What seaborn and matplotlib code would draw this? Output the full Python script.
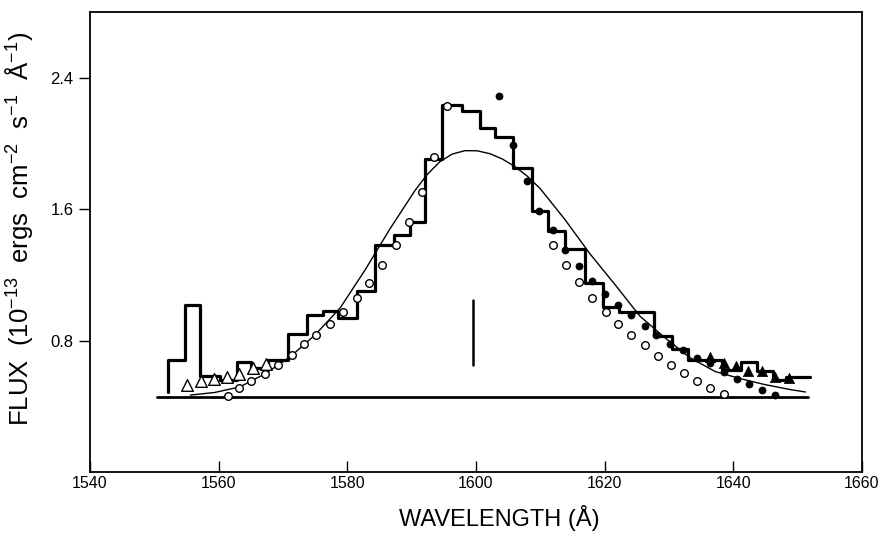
import matplotlib
matplotlib.use("Agg")
import matplotlib.pyplot as plt
import seaborn as sns
import pandas as pd

# ---------------- data ----------------
hist_edges = [1552.2, 1554.8, 1557.1, 1560.2, 1562.9, 1565.1, 1567.7, 1570.8,
              1573.7, 1576.3, 1578.6, 1581.5, 1584.3, 1587.2, 1589.7, 1592.1,
              1594.7, 1597.8, 1600.6, 1603.0, 1605.8, 1608.7, 1611.2, 1613.8,
              1617.0, 1619.7, 1622.3, 1627.6, 1630.4, 1633.0, 1638.2, 1641.2,
              1643.7, 1646.2, 1648.2, 1651.9]
hist_flux = [0.680, 1.015, 0.587, 0.558, 0.668, 0.630, 0.684, 0.839, 0.956,
             0.978, 0.935, 1.100, 1.381, 1.445, 1.519, 1.907, 2.236, 2.199,
             2.095, 2.041, 1.852, 1.586, 1.469, 1.358, 1.148, 1.007, 0.973,
             0.830, 0.751, 0.684, 0.623, 0.672, 0.617, 0.557, 0.578]
hist_start_flux = 0.484

fit_wave = [1555.6, 1559.4, 1563.3, 1567.2, 1571.1, 1575.0, 1578.9, 1582.8,
            1586.6, 1590.5, 1592.4, 1594.4, 1596.3, 1598.3, 1600.2, 1602.2,
            1604.1, 1606.1, 1608.0, 1610.0, 1613.8, 1617.7, 1621.6, 1625.5,
            1629.4, 1633.3, 1637.2, 1641.0, 1644.9, 1648.8, 1651.2]
fit_flux = [0.468, 0.484, 0.518, 0.597, 0.700, 0.835, 0.999, 1.232, 1.478,
            1.712, 1.810, 1.889, 1.935, 1.956, 1.955, 1.937, 1.905, 1.858,
            1.800, 1.724, 1.538, 1.329, 1.141, 0.948, 0.816, 0.695, 0.611,
            0.569, 0.532, 0.502, 0.487]

open_circ_wave = [1561.4, 1563.2, 1565.1, 1567.2, 1569.3, 1571.4, 1573.3,
                  1575.2, 1577.3, 1579.4, 1581.5, 1583.4, 1585.4, 1587.5,
                  1589.6, 1591.6, 1593.5, 1595.5,
                  1611.9, 1614.0, 1616.0, 1618.0, 1620.2, 1622.1, 1624.1,
                  1626.2, 1628.3, 1630.3, 1632.3, 1634.4, 1636.4, 1638.5]
open_circ_flux = [0.465, 0.512, 0.552, 0.599, 0.654, 0.712, 0.776, 0.832,
                  0.900, 0.971, 1.061, 1.151, 1.262, 1.382, 1.521, 1.704,
                  1.919, 2.229,
                  1.384, 1.262, 1.155, 1.060, 0.972, 0.903, 0.832, 0.771,
                  0.703, 0.654, 0.603, 0.552, 0.512, 0.477]

filled_circ_wave = [1603.6, 1605.8, 1608.0, 1609.8, 1611.9, 1613.9, 1616.0,
                    1618.0, 1620.0, 1622.0, 1624.1, 1626.2, 1628.0, 1630.2,
                    1632.2, 1634.4, 1636.3, 1638.5, 1640.5, 1642.4, 1644.5,
                    1646.5]
filled_circ_flux = [2.291, 1.988, 1.772, 1.588, 1.471, 1.349, 1.252, 1.162,
                    1.086, 1.019, 0.958, 0.891, 0.835, 0.780, 0.740, 0.693,
                    0.666, 0.606, 0.563, 0.534, 0.502, 0.467]

open_tri_wave = [1555.1, 1557.2, 1559.3, 1561.3, 1563.2, 1565.3, 1567.3]
open_tri_flux = [0.528, 0.552, 0.563, 0.579, 0.597, 0.630, 0.660]

filled_tri_wave = [1636.4, 1638.5, 1640.4, 1642.3, 1644.5, 1646.5, 1648.6]
filled_tri_flux = [0.701, 0.662, 0.644, 0.616, 0.613, 0.581, 0.569]

continuum_wave = [1550.4, 1651.6]
continuum_flux = [0.459, 0.459]

marker_wave = [1599.5, 1599.5]
marker_flux = [0.654, 1.049]

x_ticks = [1540, 1560, 1580, 1600, 1620, 1640, 1660]
y_ticks = [0.8, 1.6, 2.4]

# ---------------- style ----------------
sns.set_theme(style="ticks")
plt.rcParams["font.family"] = ["Liberation Sans", "DejaVu Sans"]
plt.rcParams["mathtext.fontset"] = "custom"
plt.rcParams["mathtext.rm"] = "Liberation Sans"
plt.rcParams["mathtext.it"] = "Liberation Sans:italic"
plt.rcParams["mathtext.bf"] = "Liberation Sans:bold"

fig = plt.figure(figsize=(8.89, 5.35), dpi=100)
ax = fig.add_axes([0.1012, 0.1178, 0.8684, 0.8598])

# histogram (step)
step_x = [hist_edges[0]] + hist_edges
step_y = [hist_start_flux] + hist_flux + [hist_flux[-1]]
hist_df = pd.DataFrame({"wave": step_x, "flux": step_y})
sns.lineplot(data=hist_df, x="wave", y="flux", drawstyle="steps-post",
             estimator=None, sort=False, color="black", linewidth=2.3, ax=ax,
             zorder=3)

# fitted profile
fit_df = pd.DataFrame({"wave": fit_wave, "flux": fit_flux})
sns.lineplot(data=fit_df, x="wave", y="flux", estimator=None, sort=False,
             color="black", linewidth=1.0, ax=ax, zorder=2)

# continuum
sns.lineplot(x=continuum_wave, y=continuum_flux, estimator=None, sort=False,
             color="black", linewidth=2.0, ax=ax, zorder=2)

# line-centre marker
sns.lineplot(x=marker_wave, y=marker_flux, estimator=None, sort=False,
             color="black", linewidth=1.8, ax=ax, zorder=2)

# symbols
sns.scatterplot(x=open_circ_wave, y=open_circ_flux, marker="o", s=30,
                facecolor="white", edgecolor="black", linewidth=1.0, ax=ax,
                zorder=4)
sns.scatterplot(x=filled_circ_wave, y=filled_circ_flux, marker="o", s=26,
                color="black", edgecolor="black", linewidth=0.5, ax=ax,
                zorder=4)
sns.scatterplot(x=open_tri_wave, y=open_tri_flux, marker="^", s=70,
                facecolor="white", edgecolor="black", linewidth=1.0, ax=ax,
                zorder=4)
sns.scatterplot(x=filled_tri_wave, y=filled_tri_flux, marker="^", s=55,
                color="black", edgecolor="black", linewidth=0.5, ax=ax,
                zorder=4)

ax.set_xlim(1540, 1660)
ax.set_ylim(0, 2.8)
ax.set_xticks(x_ticks)
ax.set_xticklabels([str(t) for t in x_ticks])
ax.set_yticks(y_ticks)
ax.set_yticklabels([f"{t:.1f}" for t in y_ticks])
ax.tick_params(axis="x", direction="in", length=8, width=1.0, pad=3,
               labelsize=11.5, color="black", labelcolor="black")
ax.tick_params(axis="y", direction="out", length=8, width=1.0, pad=4,
               labelsize=12, color="black", labelcolor="black")
for sp in ax.spines.values():
    sp.set_visible(True)
    sp.set_color("black")
    sp.set_linewidth(1.3)

ax.set_xlabel("WAVELENGTH (Å)", fontsize=17, color="black")
ax.xaxis.set_label_coords(0.53, -0.072)
ax.set_ylabel(r"FLUX  (10$^{-13}$  ergs  cm$^{-2}$  s$^{-1}$  Å$^{-1}$)",
              fontsize=18.5, color="black")
ax.yaxis.set_label_coords(-0.071, 0.528)

fig.savefig("out.png", dpi=100, facecolor="white")
